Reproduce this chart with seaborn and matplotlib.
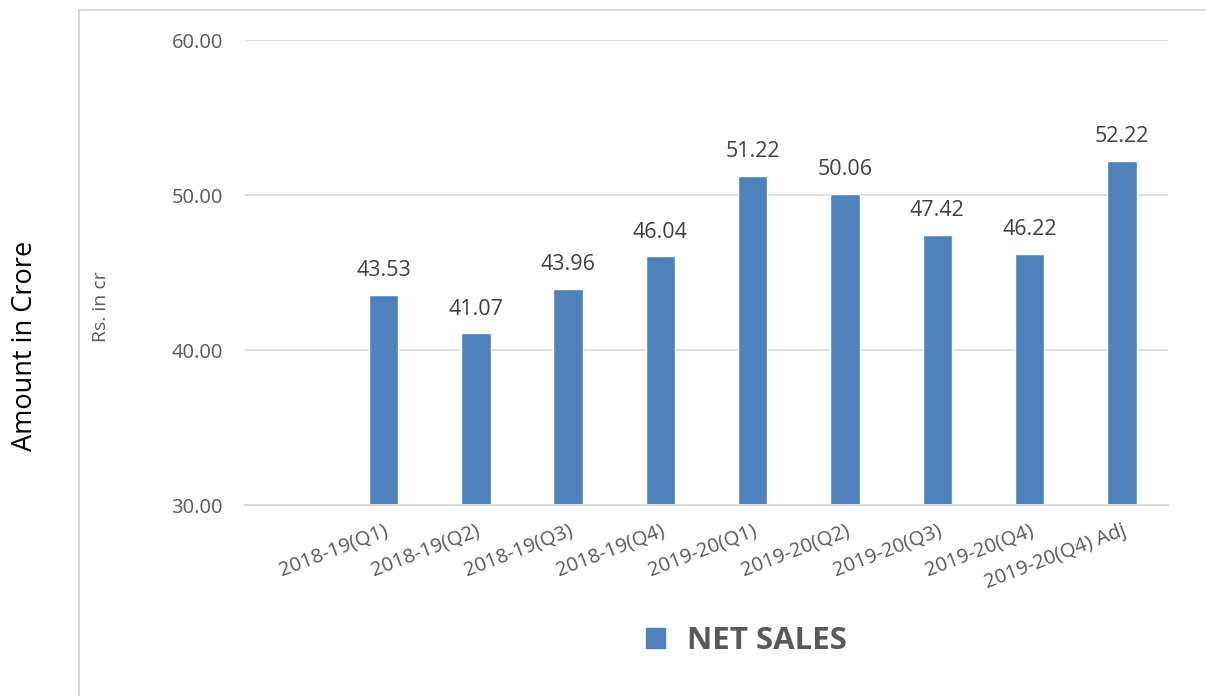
import pandas as pd
import seaborn as sns
import matplotlib.pyplot as plt
from matplotlib.lines import Line2D
from matplotlib.patches import Patch

# Dados do grafico
quarters = ['', '2018-19(Q1)', '2018-19(Q2)', '2018-19(Q3)', '2018-19(Q4)',
            '2019-20(Q1)', '2019-20(Q2)', '2019-20(Q3)', '2019-20(Q4)',
            '2019-20(Q4) Adj']
net_sales = [None, 43.53, 41.07, 43.96, 46.04, 51.22, 50.06, 47.42, 46.22, 52.22]
y_ticks = [30, 40, 50, 60]

BAR = '#4F81BD'
TXT = '#595959'
GRID = '#D9D9D9'

sns.set_theme(style='white')
plt.rcParams['font.family'] = ['Open Sans', 'DejaVu Sans']

df = pd.DataFrame({'quarter': quarters, 'sales': net_sales})

fig = plt.figure(figsize=(12.06, 6.96), dpi=100)
ax = fig.add_axes([0.2032, 0.2744, 0.7653, 0.6681])

sns.barplot(data=df.dropna(), x='quarter', y='sales', order=quarters,
            color=BAR, saturation=1, width=0.32, ax=ax)

ax.set_ylim(30, 60)
ax.set_yticks(y_ticks)
ax.set_yticklabels([f'{v:.2f}' for v in y_ticks], color=TXT, fontsize=14.5)
ax.yaxis.grid(True, color=GRID, linewidth=1.2)
ax.set_axisbelow(True)
for s in ['top', 'right', 'left']:
    ax.spines[s].set_visible(False)
ax.spines['bottom'].set_color(GRID)
ax.spines['bottom'].set_linewidth(1.5)
ax.tick_params(axis='both', length=0)
ax.tick_params(axis='y', pad=16)
ax.tick_params(axis='x', pad=11)

ax.set_xticks(range(len(quarters)))
ax.set_xticklabels(quarters, rotation=21, ha='right', rotation_mode='anchor',
                   color=TXT, fontsize=14.5)
ax.set_xlabel('')
ax.set_ylabel('')

# Rotulos de valores
for cont in ax.containers:
    ax.bar_label(cont, fmt='%.2f', padding=10, color='#404040', fontsize=15.5)

# Titulos dos eixos
fig.text(0.021, 0.503, 'Amount in Crore', rotation=90, ha='center', va='center',
         fontsize=19.5, color='black')
fig.text(0.084, 0.56, 'Rs. in cr', rotation=90, ha='center', va='center',
         fontsize=14, color=TXT)

# Legenda
handle = Patch(facecolor=BAR, edgecolor=BAR)
fig.legend([handle], ['NET SALES'], loc='center', bbox_to_anchor=(0.619, 0.079),
           frameon=False, handlelength=0.6, handleheight=0.6, handletextpad=0.7,
           prop={'weight': 'bold', 'size': 22.5}, labelcolor=TXT)

# Moldura parcial
fig.add_artist(Line2D([0.0655, 0.0655], [0, 0.986], color=GRID, lw=1.5,
                      transform=fig.transFigure))
fig.add_artist(Line2D([0.0655, 1.0], [0.986, 0.986], color=GRID, lw=1.5,
                      transform=fig.transFigure))

fig.savefig('out.png', dpi=100)
